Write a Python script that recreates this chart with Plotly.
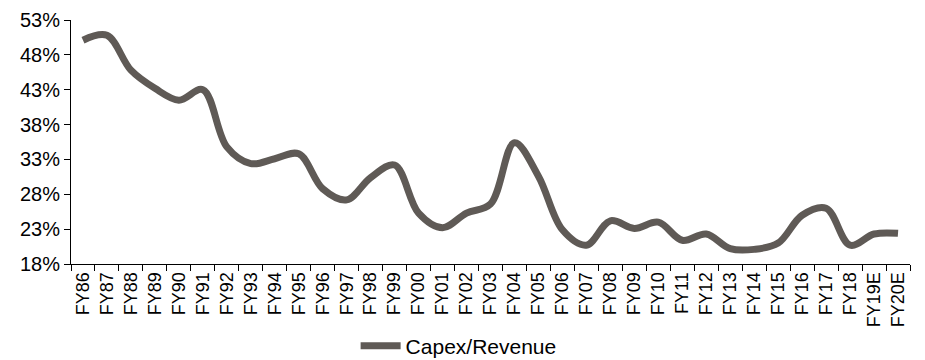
import plotly.graph_objects as go

# Fiscal years (E = estimate)
years = [
    "FY86", "FY87", "FY88", "FY89", "FY90", "FY91", "FY92", "FY93", "FY94",
    "FY95", "FY96", "FY97", "FY98", "FY99", "FY00", "FY01", "FY02", "FY03",
    "FY04", "FY05", "FY06", "FY07", "FY08", "FY09", "FY10", "FY11", "FY12",
    "FY13", "FY14", "FY15", "FY16", "FY17", "FY18", "FY19E", "FY20E",
]

# Capital expenditure as a share of revenue, in percent
capex_to_revenue = [
    50.1, 50.8, 45.8, 43.2, 41.5, 43.0, 34.8, 32.4, 33.1,
    33.8, 28.8, 27.2, 30.4, 32.2, 25.3, 23.2, 25.3, 26.6,
    35.4, 30.6, 22.9, 20.7, 24.2, 23.1, 24.0, 21.4, 22.3,
    20.2, 20.1, 21.0, 25.0, 26.0, 20.7, 22.3, 22.4,
]

y_ticks = [18, 23, 28, 33, 38, 43, 48, 53]

LINE_COLOR = "#5f5a56"
FONT = "Liberation Sans, Arial, sans-serif"

fig = go.Figure()
fig.add_trace(
    go.Scatter(
        x=years,
        y=capex_to_revenue,
        mode="lines",
        name="Capex/Revenue",
        line=dict(color=LINE_COLOR, width=7, shape="spline", smoothing=1.0),
    )
)

fig.update_layout(
    width=925,
    height=360,
    margin=dict(l=71, r=15, t=20, b=96, autoexpand=False),
    paper_bgcolor="white",
    plot_bgcolor="white",
    font=dict(family=FONT, size=19, color="black"),
    showlegend=True,
    legend=dict(
        orientation="h",
        x=0.462,
        xanchor="center",
        y=-0.336,
        yanchor="middle",
        font=dict(size=21),
        itemwidth=40,
        bgcolor="rgba(0,0,0,0)",
    ),
)

fig.update_xaxes(
    type="category",
    tickangle=-90,
    tickson="boundaries",
    ticks="outside",
    ticklen=6,
    tickcolor="black",
    showline=True,
    linecolor="black",
    linewidth=1,
    showgrid=False,
    automargin=False,
    tickfont=dict(size=18),
    range=[-0.5, len(years) - 0.5],
)

fig.update_yaxes(
    range=[18, 53],
    tickvals=y_ticks,
    ticktext=[f"{v}%" for v in y_ticks],
    ticks="outside",
    ticklen=6,
    tickcolor="black",
    showline=True,
    linecolor="black",
    linewidth=1,
    showgrid=False,
    zeroline=False,
    automargin=False,
    tickfont=dict(size=20),
)

fig.write_html("out.html")
